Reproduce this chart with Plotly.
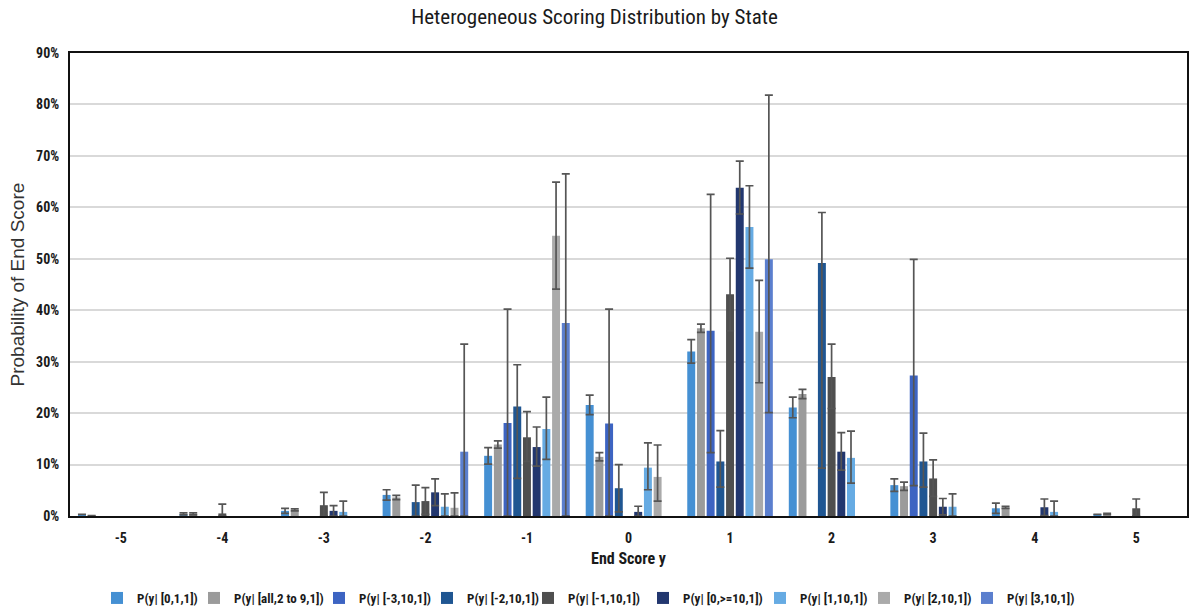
import plotly.graph_objects as go

# End scores on the x axis
categories = ["-5", "-4", "-3", "-2", "-1", "0", "1", "2", "3", "4", "5"]

series_names = [
    "P(y| [0,1,1])",
    "P(y| [all,2 to 9,1])",
    "P(y| [-3,10,1])",
    "P(y| [-2,10,1])",
    "P(y| [-1,10,1])",
    "P(y| [0,>=10,1])",
    "P(y| [1,10,1])",
    "P(y| [2,10,1])",
    "P(y| [3,10,1])",
]

series_colors = [
    "#4590D3", "#9B9B9B", "#3D64C2", "#1F5692", "#4F4F4F",
    "#22376F", "#66ABE3", "#AAAAAA", "#5B7FCE",
]

# probabilities in percent (None = no bar)
p_0_1_1 = [0.3, 0.4, 1.0, 4.1, 11.7, 21.6, 32.0, 21.1, 6.0, 1.5, 0.3]
p_all_2to9 = [0.1, 0.4, 1.2, 3.6, 13.9, 11.5, 36.5, 23.7, 5.8, 1.7, 0.4]
p_m3_10 = [None, None, None, None, 18.1, 18.0, 36.0, None, 27.3, None, None]
p_m2_10 = [None, None, None, 2.7, 21.3, 5.4, 10.6, 49.2, 10.6, None, None]
p_m1_10 = [None, 0.5, 2.1, 2.9, 15.3, None, 43.1, 27.0, 7.3, None, 1.5]
p_0_ge10 = [None, None, 1.0, 4.6, 13.4, 0.8, 63.8, 12.5, 1.8, 1.7, None]
p_1_10 = [None, None, 0.8, 1.8, 16.9, 9.4, 56.2, 11.3, 1.8, 0.8, None]
p_2_10 = [None, None, None, 1.6, 54.5, 7.6, 35.8, None, None, None, None]
p_3_10 = [None, None, None, 12.5, 37.5, None, 49.9, None, None, None, None]

# upper error amounts
e_0_1_1 = [0.0, 0.2, 0.5, 1.0, 1.6, 1.9, 2.3, 2.0, 1.2, 1.0, 0.0]
e_all_2to9 = [0.0, 0.2, 0.2, 0.4, 0.7, 0.8, 0.8, 0.9, 0.8, 0.2, 0.1]
e_m3_10 = [0, 0, 0, 0, 22.1, 22.2, 26.5, 0, 22.6, 0, 0]
e_m2_10 = [0, 0, 0, 3.3, 8.1, 4.6, 6.0, 9.8, 5.5, 0, 0]
e_m1_10 = [0, 1.8, 2.5, 2.6, 5.0, 0, 7.0, 6.4, 3.6, 0, 1.8]
e_0_ge10 = [0, 0, 1.0, 2.6, 3.9, 1.1, 5.2, 3.7, 1.6, 1.6, 0]
e_1_10 = [0, 0, 2.1, 2.5, 6.2, 4.8, 8.0, 5.2, 2.5, 2.1, 0]
e_2_10 = [0, 0, 0, 2.9, 10.4, 6.2, 10.0, 0, 0, 0, 0]
e_3_10 = [0, 0, 0, 20.9, 29.0, 0, 31.9, 0, 0, 0, 0]

# lower error amounts
em_0_1_1 = [0.0, 0.2, 0.5, 1.0, 1.6, 1.9, 2.3, 2.0, 1.2, 1.0, 0.0]
em_all_2to9 = [0.0, 0.2, 0.2, 0.4, 0.7, 0.8, 0.8, 0.9, 0.8, 0.2, 0.1]
em_m3_10 = [0, 0, 0, 0, 18.1, 18.0, 23.7, 0, 21.4, 0, 0]
em_m2_10 = [0, 0, 0, 2.7, 14.0, 4.6, 5.0, 39.9, 5.0, 0, 0]
em_m1_10 = [0, 0.5, 2.1, 2.6, 4.7, 0, 7.1, 6.1, 3.5, 0, 1.5]
em_0_ge10 = [0, 0, 1.0, 2.6, 3.7, 0.8, 5.1, 3.6, 1.6, 1.6, 0]
em_1_10 = [0, 0, 0.8, 1.8, 5.9, 4.3, 8.0, 4.9, 1.8, 0.8, 0]
em_2_10 = [0, 0, 0, 1.6, 10.4, 4.7, 9.9, 0, 0, 0, 0]
em_3_10 = [0, 0, 0, 12.5, 37.5, 0, 29.8, 0, 0, 0, 0]

values = [p_0_1_1, p_all_2to9, p_m3_10, p_m2_10, p_m1_10, p_0_ge10, p_1_10, p_2_10, p_3_10]
err_plus = [e_0_1_1, e_all_2to9, e_m3_10, e_m2_10, e_m1_10, e_0_ge10, e_1_10, e_2_10, e_3_10]
err_minus = [em_0_1_1, em_all_2to9, em_m3_10, em_m2_10, em_m1_10, em_0_ge10, em_1_10, em_2_10, em_3_10]

y_ticks = [0, 10, 20, 30, 40, 50, 60, 70, 80, 90]
y_tick_labels = [f"{v}%" for v in y_ticks]

NARROW = "Liberation Sans Narrow, Arial Narrow, Roboto Condensed, Liberation Sans, sans-serif"
TEXT = "#1a1a1a"

W, H = 1189, 611
plot_left, plot_width = 70, 1117

# each series gets its own legend box so the row of keys can be spaced freely
legend_left_px = [97, 194, 319, 427, 528, 643, 760, 864, 967]
legend_mid_px = 598

fig = go.Figure()
legend_layouts = {}
for i, (name, color, vals, ep, em) in enumerate(zip(series_names, series_colors, values, err_plus, err_minus)):
    legend_id = "legend" if i == 0 else f"legend{i + 1}"
    fig.add_trace(go.Bar(
        name=name,
        x=categories,
        y=vals,
        legend=legend_id,
        marker=dict(color=color, line=dict(width=0)),
        error_y=dict(
            type="data",
            symmetric=False,
            array=ep,
            arrayminus=em,
            color="#555555",
            thickness=1.7,
            width=4,
        ),
    ))
    legend_layouts[legend_id] = dict(
        orientation="h",
        xref="container", yref="container",
        x=legend_left_px[i] / W, xanchor="left",
        y=(H - legend_mid_px) / H, yanchor="middle",
        font=dict(family=NARROW, size=13, color=TEXT, weight="bold"),
        itemwidth=30,
        bgcolor="rgba(0,0,0,0)",
    )

fig.update_layout(
    width=W,
    height=H,
    barmode="group",
    bargap=0.14,
    bargroupgap=0.18,
    plot_bgcolor="white",
    paper_bgcolor="white",
    margin=dict(l=70, r=2, t=53, b=95, autoexpand=False),
    title=dict(
        text="Heterogeneous Scoring Distribution by State",
        x=0.5, xanchor="center",
        y=0.972, yanchor="middle",
        font=dict(family=NARROW, size=21, color=TEXT),
    ),
    font=dict(family=NARROW, color=TEXT),
    showlegend=True,
    annotations=[
        dict(
            text="Probability of End Score",
            xref="paper", yref="paper",
            x=-53 / plot_width, y=0.5,
            xanchor="center", yanchor="middle",
            textangle=-90, showarrow=False,
            font=dict(family="Liberation Sans, Arial, sans-serif", size=19, color="#333333"),
        )
    ],
    **legend_layouts,
)

fig.update_xaxes(
    type="category",
    categoryorder="array",
    categoryarray=categories,
    showline=True, linecolor="#111111", linewidth=2, mirror=True,
    ticks="", showgrid=False,
    ticklabelstandoff=8,
    tickfont=dict(family=NARROW, size=14, color=TEXT, weight="bold"),
    title=dict(text="End Score y", standoff=8,
               font=dict(family=NARROW, size=16, color=TEXT, weight="bold")),
)

fig.update_yaxes(
    range=[0, 90],
    tickmode="array",
    tickvals=y_ticks,
    ticktext=y_tick_labels,
    showline=True, linecolor="#111111", linewidth=2, mirror=True,
    showgrid=True, gridcolor="#d9d9d9", gridwidth=1.5,
    zeroline=False,
    ticks="",
    ticklabelstandoff=6,
    tickfont=dict(family=NARROW, size=14, color=TEXT, weight="bold"),
)

fig.write_html("out.html")
